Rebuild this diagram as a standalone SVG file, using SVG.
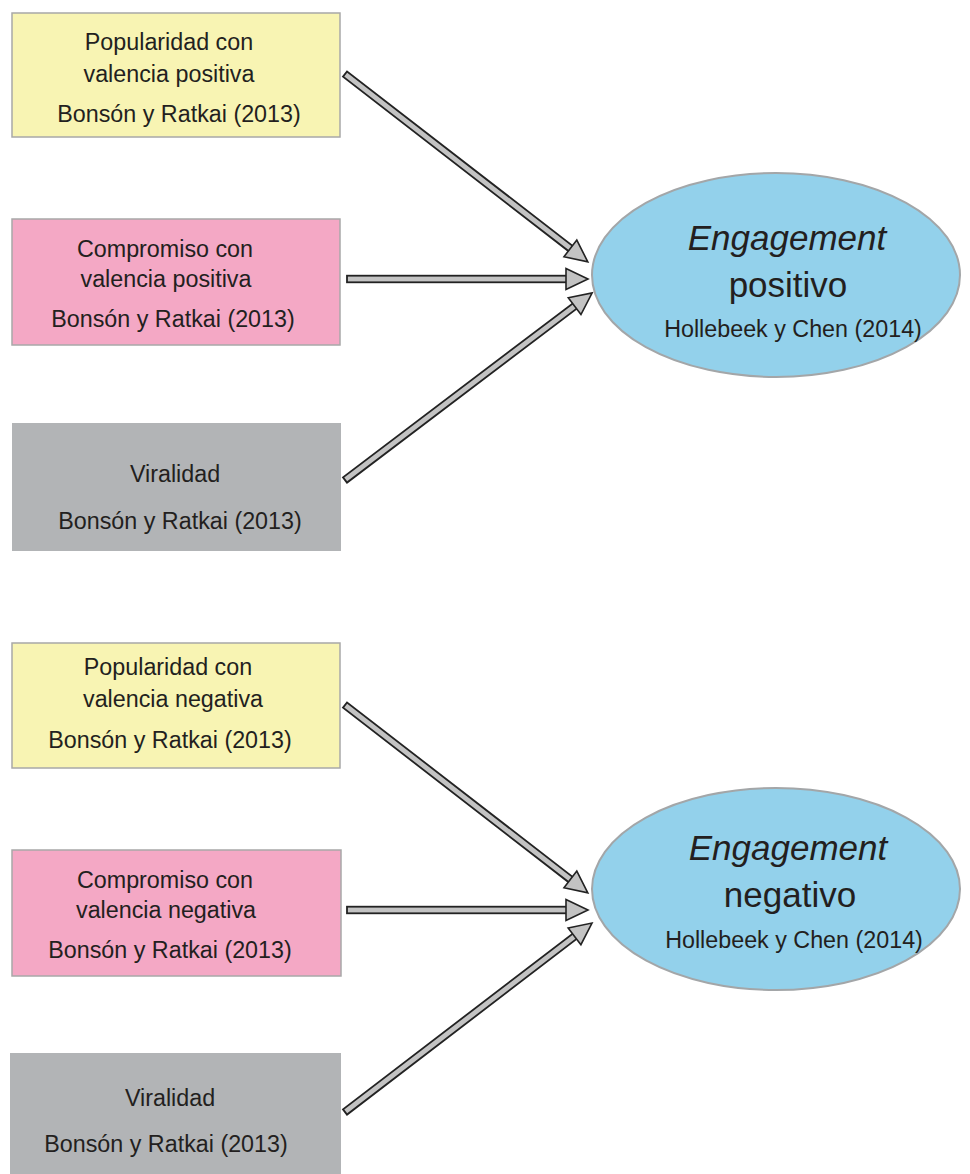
<svg xmlns="http://www.w3.org/2000/svg" width="970" height="1174" viewBox="0 0 970 1174">
<style>
text { font-family: "Liberation Sans", Arial, sans-serif; fill: #231f20; text-anchor: middle; }
.t { font-size: 23.3px; }
.big { font-size: 35px; }
.it { font-style: italic; }
.box { stroke: #a8a8a8; stroke-width: 1.5; }
.yel { fill: #f8f4b3; }
.pink { fill: #f4a8c5; }
.gray { fill: #b2b4b6; stroke: none; }
.ell { fill: #93d1eb; stroke: #a3a6a8; stroke-width: 2; }
.shaft { fill: #c3c3c3; stroke: #222222; stroke-width: 1.8; }
.head { fill: #c3c3c3; stroke: #222222; stroke-width: 1.6; stroke-linejoin: miter; }
</style>
<rect width="970" height="1174" fill="#ffffff"/>

<g id="connectors">
  <g id="a1" transform="translate(345,74) rotate(37.73)">
    <rect class="shaft" x="0" y="-3.3" width="286" height="6.6"/>
    <polygon class="head" points="285,-10.5 307,0 285,10.5"/>
  </g>
  <g id="a2" transform="translate(347,279)">
    <rect class="shaft" x="0" y="-3.3" width="220" height="6.6"/>
    <polygon class="head" points="219,-10.5 241,0 219,10.5"/>
  </g>
  <g id="a3" transform="translate(345,480) rotate(-37.13)">
    <rect class="shaft" x="0" y="-3.3" width="289" height="6.6"/>
    <polygon class="head" points="288,-10.5 310,0 288,10.5"/>
  </g>
  <g id="a4" transform="translate(345,705) rotate(37.73)">
    <rect class="shaft" x="0" y="-3.3" width="286" height="6.6"/>
    <polygon class="head" points="285,-10.5 307,0 285,10.5"/>
  </g>
  <g id="a5" transform="translate(347,910)">
    <rect class="shaft" x="0" y="-3.3" width="220" height="6.6"/>
    <polygon class="head" points="219,-10.5 241,0 219,10.5"/>
  </g>
  <g id="a6" transform="translate(345,1112) rotate(-37.42)">
    <rect class="shaft" x="0" y="-3.3" width="290" height="6.6"/>
    <polygon class="head" points="289,-10.5 311,0 289,10.5"/>
  </g>
</g>

<g id="n1">
  <rect class="box yel" x="12" y="13" width="328" height="124"/>
  <text class="t" x="169" y="50">Popularidad con</text>
  <text class="t" x="169" y="82">valencia positiva</text>
  <text class="t" x="179" y="122">Bonsón y Ratkai (2013)</text>
</g>
<g id="n2">
  <rect class="box pink" x="12" y="219" width="328" height="126"/>
  <text class="t" x="165" y="257">Compromiso con</text>
  <text class="t" x="166" y="287">valencia positiva</text>
  <text class="t" x="173" y="327">Bonsón y Ratkai (2013)</text>
</g>
<g id="n3">
  <rect class="gray" x="12" y="423" width="329" height="128"/>
  <text class="t" x="175" y="482">Viralidad</text>
  <text class="t" x="180" y="529">Bonsón y Ratkai (2013)</text>
</g>
<g id="e1">
  <ellipse class="ell" cx="776" cy="275" rx="184" ry="102"/>
  <text class="big it" x="787" y="250">Engagement</text>
  <text class="big" x="788" y="297">positivo</text>
  <text class="t" x="793" y="337">Hollebeek y Chen (2014)</text>
</g>

<g id="n4">
  <rect class="box yel" x="12" y="643" width="328" height="125"/>
  <text class="t" x="168" y="675">Popularidad con</text>
  <text class="t" x="173" y="707">valencia negativa</text>
  <text class="t" x="170" y="748">Bonsón y Ratkai (2013)</text>
</g>
<g id="n5">
  <rect class="box pink" x="12" y="850" width="329" height="126"/>
  <text class="t" x="165" y="888">Compromiso con</text>
  <text class="t" x="166" y="918">valencia negativa</text>
  <text class="t" x="170" y="958">Bonsón y Ratkai (2013)</text>
</g>
<g id="n6">
  <rect class="gray" x="10" y="1053" width="331" height="125"/>
  <text class="t" x="170" y="1106">Viralidad</text>
  <text class="t" x="166" y="1152">Bonsón y Ratkai (2013)</text>
</g>
<g id="e2">
  <ellipse class="ell" cx="776" cy="889" rx="184" ry="101"/>
  <text class="big it" x="788" y="860">Engagement</text>
  <text class="big" x="790" y="907">negativo</text>
  <text class="t" x="794" y="948">Hollebeek y Chen (2014)</text>
</g>
</svg>
